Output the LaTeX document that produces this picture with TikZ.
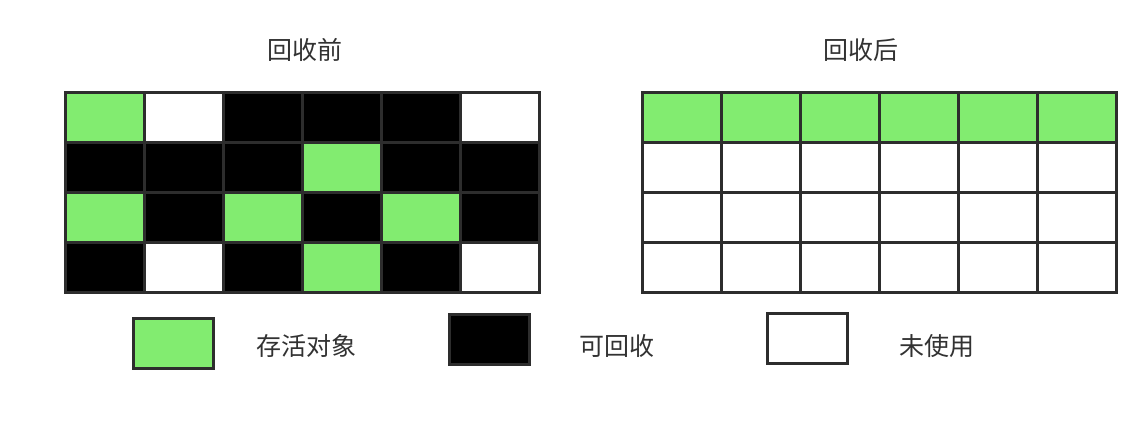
\documentclass[tikz,border=0pt]{standalone}
\usepackage{fontspec}
\newfontfamily\cjk{Noto Sans CJK SC}
\definecolor{live}{RGB}{130,236,112}
\definecolor{dead}{RGB}{0,0,0}
\definecolor{free}{RGB}{255,255,255}
\definecolor{gridline}{RGB}{45,45,45}
\definecolor{txt}{RGB}{50,50,50}
\tikzset{
  cellline/.style={draw=gridline, line width=3pt},
  lbl/.style={text=txt, font=\cjk\fontsize{25}{29}\selectfont, inner sep=0pt},
  legbox/.style={draw=gridline, line width=3pt, minimum width=80pt, minimum height=50pt, inner sep=0pt}
}
\newcommand{\gridcells}[3]{% #1 x0, #2 y0, #3 list of row/col/colour
  \foreach \r/\c/\col in {#3}{
    \fill[\col] ({#1+\c*79},{#2+\r*50}) rectangle ++(79,50);
  }
}
\newcommand{\gridlines}[2]{% #1 x0, #2 y0
  \foreach \c in {1,...,5}{
    \draw[cellline] ({#1+\c*79},#2) -- ++(0,200);
  }
  \foreach \r in {1,2,3}{
    \draw[cellline] (#1,{#2+\r*50}) -- ++(474,0);
  }
  \draw[cellline] (#1,#2) rectangle ++(474,200);
}
\begin{document}
\begin{tikzpicture}[x=1pt,y=-1pt]
\useasboundingbox (0,0) rectangle (1148,424);
\fill[white] (0,0) rectangle (1148,424);
% titles
\node[lbl] (t1) at (305,50) {回收前};
\node[lbl] (t2) at (861,50) {回收后};
% left grid
\gridcells{65}{92}{0/0/live,0/1/free,0/2/dead,0/3/dead,0/4/dead,0/5/free,
  1/0/dead,1/1/dead,1/2/dead,1/3/live,1/4/dead,1/5/dead,
  2/0/live,2/1/dead,2/2/live,2/3/dead,2/4/live,2/5/dead,
  3/0/dead,3/1/free,3/2/dead,3/3/live,3/4/dead,3/5/free}
\gridlines{65}{92}
% right grid
\gridcells{642}{92}{0/0/live,0/1/live,0/2/live,0/3/live,0/4/live,0/5/live}
\gridlines{642}{92}
% legend
\node[legbox, fill=live] (lg) at (173,343) {};
\node[lbl] (lgt) at (306,346) {存活对象};
\node[legbox, fill=dead] (lb) at (489,339) {};
\node[lbl] (lbt) at (617,346) {可回收};
\node[legbox, fill=free] (lw) at (807,338) {};
\node[lbl] (lwt) at (937,346) {未使用};
\end{tikzpicture}
\end{document}
